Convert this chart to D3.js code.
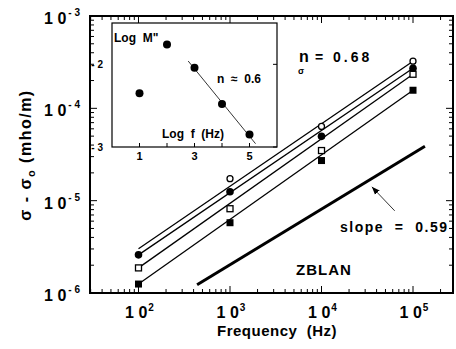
<!DOCTYPE html>
<html><head><meta charset="utf-8">
<script src="https://cdn.jsdelivr.net/npm/d3@7"></script>
<style>
body{margin:0;background:#fff}
svg{display:block}
text{font-family:"Liberation Sans",Arial,Helvetica,sans-serif;font-weight:bold;fill:#000}
</style>
</head><body><svg id="c" width="456" height="349"></svg>
<script>
// ---- data ----
const freqs = [1e2, 1e3, 1e4, 1e5];
const openCircle   = [null, 1.73e-5, 6.37e-5, 3.24e-4];
const filledCircle = [2.59e-6, 1.25e-5, 4.97e-5, 2.72e-4];
const openSquare   = [1.87e-6, 8.18e-6, 3.49e-5, 2.34e-4];
const filledSquare = [1.25e-6, 5.77e-6, 2.72e-5, 1.57e-4];
// fitted lines (value at 1e2 and at 1e5)
const fitFreqs = [1e2, 1e5];
const fitOpenCircle   = [3.01e-6, 3.24e-4];
const fitFilledCircle = [2.59e-6, 2.72e-4];
const fitOpenSquare   = [1.87e-6, 2.34e-4];
const fitFilledSquare = [1.25e-6, 1.57e-4];
// slope 0.59 reference line
const slopeFreqs = [437, 1.35e5];
const slopeVals  = [1.23e-6, 3.89e-5];
// arrow annotation (tail, head)
const arrowFreqs = [10**4.80, 10**4.55];
const arrowVals  = [10**-5.11, 10**-4.85];
const xTickExp = [2, 3, 4, 5];
const yTickExp = [-3, -4, -5, -6];
// inset
const insetLogF = [1, 2, 3, 4, 5];
const insetLogM = [-2.35, -1.76, -2.04, -2.48, -2.85];
const insetFitF = [2.77, 5.22];
const insetFitM = [-1.96, -2.96];
const insetXTicks = [1, 3, 5];
const insetYTicks = [-2, -3];

const svg = d3.select("#c");
const x = d3.scaleLog().domain([10**1.47, 10**5.437]).range([90, 453]);
const y = d3.scaleLog().domain([1e-6, 1e-3]).range([293, 16]);

// frame
svg.append("rect").attr("x",90).attr("y",16).attr("width",363).attr("height",277)
  .attr("fill","none").attr("stroke","#000").attr("stroke-width",2);

// log ticks inward on all sides
const tickG = svg.append("g").attr("stroke","#000").attr("stroke-width",1);
for (let d = 1; d <= 5; d++) for (let k = 1; k <= 9; k++) {
  const v = k * 10**d; if (v < x.domain()[0] || v > x.domain()[1]) continue;
  const L = k === 1 ? 7 : 4, px = x(v);
  tickG.append("line").attr("x1",px).attr("x2",px).attr("y1",293).attr("y2",293-L);
  tickG.append("line").attr("x1",px).attr("x2",px).attr("y1",16).attr("y2",16+L);
}
for (let d = -6; d <= -4; d++) for (let k = 1; k <= 9; k++) {
  const v = k * 10**d; if (v < 1e-6 || v > 1e-3) continue;
  const L = k === 1 ? 7 : 4, py = y(v);
  tickG.append("line").attr("x1",90).attr("x2",90+L).attr("y1",py).attr("y2",py);
  tickG.append("line").attr("x1",453).attr("x2",453-L).attr("y1",py).attr("y2",py);
}

// tick labels
xTickExp.forEach(e => {
  const t = svg.append("text").attr("x", x(10**e)+1).attr("y",318).attr("text-anchor","middle").attr("font-size",16);
  t.append("tspan").text("1 0");
  t.append("tspan").attr("font-size",10).attr("dy",-7).attr("dx",1).text(e);
});
yTickExp.forEach(e => {
  const t = svg.append("text").attr("x", 80).attr("y", y(10**e)+8).attr("text-anchor","end").attr("font-size",16);
  t.append("tspan").text("1 0");
  t.append("tspan").attr("font-size",10).attr("dy",-8).attr("dx",2).style("white-space","pre").text("- " + (-e));
});

// axis titles
svg.append("text").attr("x",277).attr("y",336).attr("text-anchor","middle").attr("font-size",15)
  .attr("letter-spacing",0.5).style("white-space","pre").text("Frequency  (Hz)");
const yt = svg.append("text").attr("transform","translate(31,155) rotate(-90)").attr("text-anchor","middle")
  .attr("font-size",16).attr("letter-spacing",1.5).style("white-space","pre");
yt.append("tspan").text("σ - σ");
yt.append("tspan").attr("font-size",11).attr("dy",4).text("o");
yt.append("tspan").attr("dy",-4).text(" (mho/m)");

// fit lines
const lineGen = d3.line().x(d => x(d[0])).y(d => y(d[1]));
[fitOpenCircle, fitFilledCircle, fitOpenSquare, fitFilledSquare].forEach(f => {
  svg.append("path").attr("d", lineGen(fitFreqs.map((fq,i)=>[fq,f[i]])))
    .attr("fill","none").attr("stroke","#000").attr("stroke-width",1.3);
});
svg.append("path").attr("d", lineGen(slopeFreqs.map((fq,i)=>[fq,slopeVals[i]])))
  .attr("fill","none").attr("stroke","#000").attr("stroke-width",3);

// markers
const pts = s => freqs.map((f,i)=>[f,s[i]]).filter(d=>d[1]!=null);
svg.selectAll(".oc").data(pts(openCircle)).join("circle")
  .attr("cx",d=>x(d[0])).attr("cy",d=>y(d[1])).attr("r",3).attr("fill","#fff").attr("stroke","#000").attr("stroke-width",1.3);
svg.selectAll(".os").data(pts(openSquare)).join("rect")
  .attr("x",d=>x(d[0])-3).attr("y",d=>y(d[1])-3).attr("width",6).attr("height",6).attr("fill","#fff").attr("stroke","#000").attr("stroke-width",1.3);
svg.selectAll(".fc").data(pts(filledCircle)).join("circle")
  .attr("cx",d=>x(d[0])).attr("cy",d=>y(d[1])).attr("r",3.8).attr("fill","#000");
svg.selectAll(".fs").data(pts(filledSquare)).join("rect")
  .attr("x",d=>x(d[0])-3.5).attr("y",d=>y(d[1])-3.5).attr("width",7).attr("height",7).attr("fill","#000");

// arrow
svg.append("defs").append("marker").attr("id","ah").attr("viewBox","0 0 10 10").attr("refX",10).attr("refY",5)
  .attr("markerWidth",8).attr("markerHeight",8).attr("orient","auto").attr("markerUnits","userSpaceOnUse")
  .append("path").attr("d","M0,1 L10,5 L0,9 Z").attr("fill","#000");
svg.append("line").attr("x1",x(arrowFreqs[0])).attr("y1",y(arrowVals[0])).attr("x2",x(arrowFreqs[1])).attr("y2",y(arrowVals[1]))
  .attr("stroke","#000").attr("stroke-width",0.8).attr("marker-end","url(#ah)");

// annotations
const nt = svg.append("text").attr("y",62).attr("font-size",16).style("white-space","pre");
nt.append("tspan").attr("x",299).text("n");
nt.append("tspan").attr("x",315).attr("font-size",14).attr("letter-spacing",3).text("= 0.68");
svg.append("text").attr("x",298).attr("y",74).attr("font-size",9).attr("font-weight","normal").text("σ");
svg.append("text").attr("x",340).attr("y",232).attr("font-size",14).attr("letter-spacing",1.5).style("white-space","pre").text("slope  =  0.59");
svg.append("text").attr("x",296).attr("y",275).attr("font-size",15).attr("letter-spacing",1).text("ZBLAN");

// ---- inset ----
const ix = d3.scaleLinear().domain([0, 6]).range([112, 277]);
const iy = d3.scaleLinear().domain([-3, -1.5]).range([147, 23]);
svg.append("rect").attr("x",112).attr("y",23).attr("width",165).attr("height",124)
  .attr("fill","#fff").attr("stroke","#000").attr("stroke-width",1.2);
insetLogF.forEach(v => svg.append("line").attr("x1",ix(v)).attr("x2",ix(v)).attr("y1",147).attr("y2",143).attr("stroke","#000"));
insetYTicks.forEach(v => svg.append("line").attr("x1",277).attr("x2",273).attr("y1",iy(v)).attr("y2",iy(v)).attr("stroke","#000"));
insetXTicks.forEach(v => svg.append("text").attr("x",ix(v)).attr("y",160).attr("text-anchor","middle").attr("font-size",11).text(v));
insetYTicks.forEach(v => svg.append("text").attr("x",103).attr("y",iy(v)+4).attr("text-anchor","end").attr("font-size",10)
  .style("white-space","pre").text("- " + (-v)));
svg.append("path").attr("d", d3.line().x(d=>ix(d[0])).y(d=>iy(d[1]))(insetFitF.map((f,i)=>[f,insetFitM[i]])))
  .attr("stroke","#000").attr("stroke-width",0.8).attr("fill","none");
svg.selectAll(".ip").data(insetLogF.map((f,i)=>[f,insetLogM[i]])).join("circle")
  .attr("cx",d=>ix(d[0])).attr("cy",d=>iy(d[1])).attr("r",4).attr("fill","#000");
svg.append("text").attr("x",114).attr("y",42).attr("font-size",12).style("white-space","pre").text("Log  M\"");
svg.append("text").attr("x",217).attr("y",83).attr("font-size",12).style("white-space","pre").text("n  ≈  0.6");
svg.append("text").attr("x",162).attr("y",138).attr("font-size",12).style("white-space","pre").text("Log  f  (Hz)");
</script></body></html>
